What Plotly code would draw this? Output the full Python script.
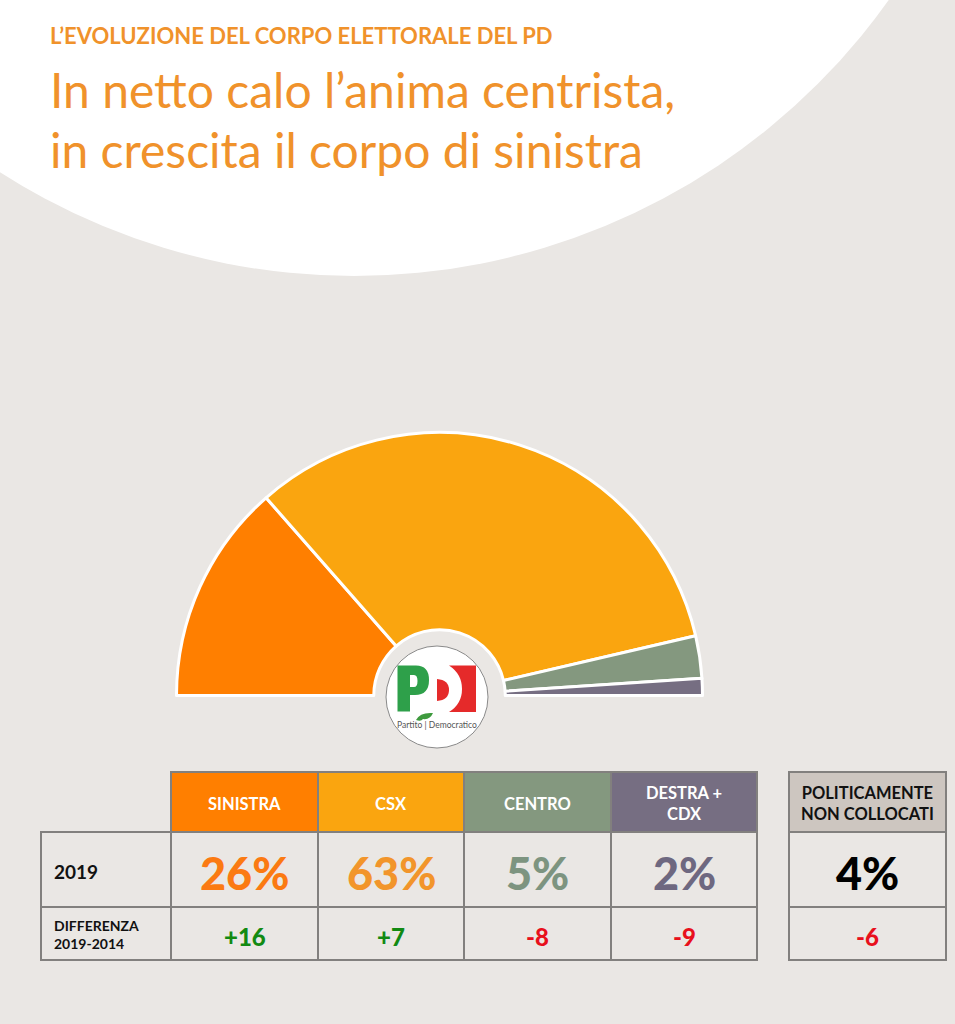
import plotly.graph_objects as go

W, H = 955, 1024
BG = "#EAE7E4"
FONT = "Lato"

# data
categories = ["SINISTRA", "CSX", "CENTRO", "DESTRA +<br>CDX"]
values_2019 = [26, 63, 5, 2]
diff_2019_2014 = [16, 7, -8, -9]
colors = ["#FF7F00", "#FAA50F", "#84987F", "#766E82"]
text_colors = ["#FB7A12", "#F2952B", "#7D9480", "#6E6880"]
other_label = "POLITICAMENTE<br>NON COLLOCATI"
other_value = 4
other_diff = -6

# table grid, in page pixels
col_edges = [171, 318, 464, 611, 757]
row_edges = [772, 832, 907, 960]
left_edge = 41
other_edges = [789, 946]
GRID = "#82807E"


def diff_text(v):
    return f"{v:+d}"


def diff_color(v):
    return "#128A12" if v > 0 else "#E8101C"


# half donut: the hidden slice is as large as the rest together
cx, cy, r = 439.5, 695.5, 263
pie_values = values_2019 + [sum(values_2019)]
fig = go.Figure(go.Pie(
    values=pie_values,
    sort=False,
    direction="clockwise",
    rotation=270,
    hole=0.25,
    textinfo="none",
    hoverinfo="skip",
    showlegend=False,
    marker=dict(colors=colors + ["rgba(0,0,0,0)"],
                line=dict(color="white", width=[3, 3, 3, 3, 0])),
    domain=dict(x=[(cx - r) / W, (cx + r) / W],
                y=[(H - cy - r) / H, (H - cy + r) / H]),
))

# empty trace so the pixel axes exist for the shapes and texts
fig.add_trace(go.Scatter(x=[0, W], y=[0, H], mode="none", hoverinfo="skip", showlegend=False))

shapes = []
annots = []


def rect(x0, y0, x1, y1, fill="rgba(0,0,0,0)", line=GRID, width=2):
    shapes.append(dict(type="rect", x0=x0, y0=y0, x1=x1, y1=y1, fillcolor=fill,
                       line=dict(color=line, width=width), layer="below"))


def label(x, y, text, size, color, bold=True, align="center", weight=None):
    annots.append(dict(x=x, y=y, text=f"<b>{text}</b>" if bold and not weight else text, showarrow=False,
                       xanchor=align, yanchor="middle", align=align,
                       font=dict(family=FONT, size=size, color=color, weight=weight or "normal")))


# white arc behind the title
shapes.append(dict(type="circle", x0=354 - 656, y0=-380 - 656, x1=354 + 656, y1=-380 + 656,
                   fillcolor="white", line=dict(width=0), layer="below"))

label(48, 35, "L’EVOLUZIONE DEL CORPO ELETTORALE DEL PD", 22, "#F0922B", align="left")
label(48, 89, "In netto calo l’anima centrista,", 48, "#F0922B", bold=False, align="left")
label(48, 149, "in crescita il corpo di sinistra", 48, "#F0922B", bold=False, align="left")

# table
for i, cat in enumerate(categories):
    x0, x1 = col_edges[i], col_edges[i + 1]
    xm = (x0 + x1) / 2
    rect(x0, row_edges[0], x1, row_edges[1], fill=colors[i])
    rect(x0, row_edges[1], x1, row_edges[2])
    rect(x0, row_edges[2], x1, row_edges[3])
    label(xm, (row_edges[0] + row_edges[1]) / 2 + 1.5, cat, 16.5, "white")
    label(xm, 873, f"{values_2019[i]}%", 45, text_colors[i], weight=900)
    label(xm, 936, diff_text(diff_2019_2014[i]), 24, diff_color(diff_2019_2014[i]), weight=900)

rect(left_edge, row_edges[1], col_edges[0], row_edges[2])
rect(left_edge, row_edges[2], col_edges[0], row_edges[3])
label(52, 871, "2019", 19, "#111111", align="left")
label(52, 934, "DIFFERENZA<br>2019-2014", 14, "#111111", align="left")

rect(other_edges[0], row_edges[0], other_edges[1], row_edges[1], fill="#CDC6C0")
rect(other_edges[0], row_edges[1], other_edges[1], row_edges[2])
rect(other_edges[0], row_edges[2], other_edges[1], row_edges[3])
xm = sum(other_edges) / 2
label(xm, 803, other_label, 16.5, "#111111")
label(xm, 873, f"{other_value}%", 45, "#000000", weight=900)
label(xm, 936, diff_text(other_diff), 24, diff_color(other_diff), weight=900)

# logo
shapes.append(dict(type="circle", x0=386, y0=646, x1=488, y1=748, fillcolor="white",
                   line=dict(color="#8A8A8A", width=1), layer="above"))
shapes.append(dict(type="path", layer="above", fillcolor="#2EA04A", line=dict(width=0),
                   path="M397.5 665.5 L416 665.5 Q429 665.5 429 680 Q429 695 415 695 L410 695 L410 711.5 "
                        "L397.5 711.5 Z M410 675 L410 687 L414 687 Q417.5 687 417.5 681 Q417.5 675 414 675 Z"))
shapes.append(dict(type="path", layer="above", fillcolor="#E52A2A", line=dict(width=0),
                   path="M449 665.5 L476 665.5 L476 712 L449 712 Q462 704 462 689 Q462 674 449 665.5 Z"))
shapes.append(dict(type="path", layer="above", fillcolor="#E52A2A", line=dict(width=0),
                   path="M437 679 Q449 680 449 690 Q449 700 437 701 Z"))
shapes.append(dict(type="path", layer="above", fillcolor="#3E9A3E", line=dict(width=0),
                   path="M416 720 Q420 712 433 713 Q430 720 423 719 Q421 722 416 720 Z"))
label(437, 725, "Partito | Democratico", 8.5, "#555555", bold=False)

fig.update_layout(
    width=W, height=H, autosize=False,
    margin=dict(l=0, r=0, t=0, b=0),
    paper_bgcolor=BG, plot_bgcolor=BG,
    xaxis=dict(range=[0, W], visible=False, fixedrange=True),
    yaxis=dict(range=[H, 0], visible=False, fixedrange=True),
    shapes=shapes,
    annotations=annots,
)

# the page's default body margin would push the figure off the window
fig.write_html("out.html", config={"displayModeBar": False},
               post_script="document.body.style.margin='0';document.body.style.background='#EAE7E4';")
